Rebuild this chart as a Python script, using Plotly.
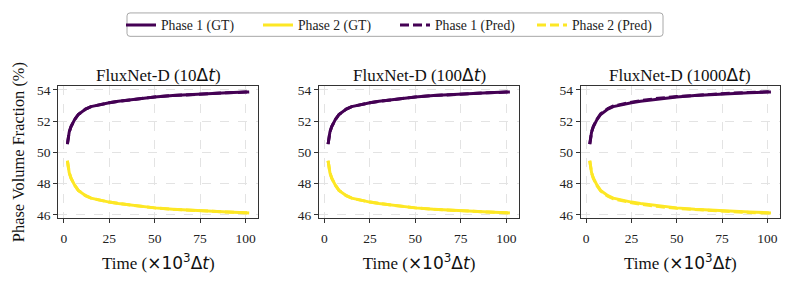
import plotly.graph_objects as go

# ---------------- data ----------------
time_k = [2, 3, 4, 5, 6, 8, 10, 12, 15, 20, 25, 30, 40, 50, 60, 70, 80, 90, 100, 102]

phase1_gt = [50.53, 51.30, 51.65, 51.90, 52.10, 52.43, 52.62, 52.77, 52.93, 53.07,
             53.18, 53.27, 53.43, 53.55, 53.64, 53.71, 53.77, 53.82, 53.86, 53.87]
phase2_gt = [49.47, 48.70, 48.35, 48.10, 47.90, 47.57, 47.38, 47.23, 47.07, 46.93,
             46.82, 46.73, 46.57, 46.45, 46.36, 46.29, 46.23, 46.18, 46.14, 46.13]

pred_10_p1 = [50.53, 51.30, 51.65, 51.90, 52.10, 52.43, 52.62, 52.77, 52.93, 53.07,
              53.18, 53.27, 53.43, 53.55, 53.64, 53.71, 53.77, 53.82, 53.86, 53.87]
pred_10_p2 = [49.47, 48.70, 48.35, 48.10, 47.90, 47.57, 47.38, 47.23, 47.07, 46.93,
              46.82, 46.73, 46.57, 46.45, 46.36, 46.29, 46.23, 46.18, 46.14, 46.13]
pred_100_p1 = [50.53, 51.30, 51.65, 51.90, 52.10, 52.43, 52.62, 52.77, 52.93, 53.07,
               53.18, 53.27, 53.43, 53.55, 53.64, 53.71, 53.77, 53.82, 53.86, 53.87]
pred_100_p2 = [49.47, 48.70, 48.35, 48.10, 47.90, 47.57, 47.38, 47.23, 47.07, 46.93,
               46.82, 46.73, 46.57, 46.45, 46.36, 46.29, 46.23, 46.18, 46.14, 46.13]
pred_1000_p1 = [50.53, 51.31, 51.67, 51.93, 52.13, 52.47, 52.66, 52.81, 52.97, 53.11,
                53.22, 53.31, 53.47, 53.58, 53.66, 53.73, 53.79, 53.84, 53.88, 53.89]
pred_1000_p2 = [49.47, 48.69, 48.33, 48.07, 47.87, 47.53, 47.34, 47.19, 47.03, 46.89,
                46.78, 46.69, 46.53, 46.42, 46.34, 46.27, 46.21, 46.16, 46.12, 46.11]

panel_steps = ["10", "100", "1000"]
preds = [(pred_10_p1, pred_10_p2), (pred_100_p1, pred_100_p2), (pred_1000_p1, pred_1000_p2)]

series_names = ["Phase 1 (GT)", "Phase 2 (GT)", "Phase 1 (Pred)", "Phase 2 (Pred)"]
x_ticks = [0, 25, 50, 75, 100]
y_ticks = [46, 48, 50, 52, 54]

# ---------------- style ----------------
PURPLE = "#440154"
YELLOW = "#fde725"
SERIF = "Liberation Serif"
MATH = "'DejaVu Sans'"
OFF = 8                     # default page body margin
W, H = 792 - 2 * OFF, 287 - 2 * OFF


def px_x(px):
    return (px - OFF) / W


def px_y(py):
    return 1 - (py - OFF) / H


x_domains = [(58.3, 258.3), (319.0, 519.0), (580.7, 780.0)]
y_top, y_bot = 84.7, 221.0
y_dom = [px_y(y_bot), px_y(y_top)]

fig = go.Figure()

for i, (p1p, p2p) in enumerate(preds):
    sfx = "" if i == 0 else str(i + 1)
    xa, ya = "x" + sfx, "y" + sfx
    show = i == 0
    fig.add_trace(go.Scatter(x=time_k, y=phase1_gt, mode="lines", name=series_names[0],
                             line=dict(color=PURPLE, width=3), xaxis=xa, yaxis=ya,
                             showlegend=show, legendrank=1))
    fig.add_trace(go.Scatter(x=time_k, y=phase2_gt, mode="lines", name=series_names[1],
                             line=dict(color=YELLOW, width=3), xaxis=xa, yaxis=ya,
                             showlegend=show, legendrank=2))
    fig.add_trace(go.Scatter(x=time_k, y=p1p, mode="lines", name=series_names[2],
                             line=dict(color=PURPLE, width=3, dash="9px,4px"), xaxis=xa, yaxis=ya,
                             showlegend=show, legendrank=3))
    fig.add_trace(go.Scatter(x=time_k, y=p2p, mode="lines", name=series_names[3],
                             line=dict(color=YELLOW, width=3, dash="9px,4px"), xaxis=xa, yaxis=ya,
                             showlegend=show, legendrank=4))

xtitle = ("Time (<span style=\"font-family:" + MATH + "\">×10<sup>3</sup>Δ<i>t</i></span>)")

# rounded legend frame (in page pixels -> paper coords)
lx0, lx1, ly0, ly1, r = 127, 663, 10, 34, 3
frame = (f"M {px_x(lx0 + r)} {px_y(ly0)} L {px_x(lx1 - r)} {px_y(ly0)} "
         f"Q {px_x(lx1)} {px_y(ly0)} {px_x(lx1)} {px_y(ly0 + r)} "
         f"L {px_x(lx1)} {px_y(ly1 - r)} Q {px_x(lx1)} {px_y(ly1)} {px_x(lx1 - r)} {px_y(ly1)} "
         f"L {px_x(lx0 + r)} {px_y(ly1)} Q {px_x(lx0)} {px_y(ly1)} {px_x(lx0)} {px_y(ly1 - r)} "
         f"L {px_x(lx0)} {px_y(ly0 + r)} Q {px_x(lx0)} {px_y(ly0)} {px_x(lx0 + r)} {px_y(ly0)} Z")

layout = dict(
    width=W, height=H,
    margin=dict(l=0, r=0, t=0, b=0),
    paper_bgcolor="white", plot_bgcolor="white",
    font=dict(family=SERIF, size=13, color="#222"),
    showlegend=True,
    legend=dict(orientation="h", x=px_x(395), xanchor="center", y=px_y(22.5), yanchor="middle",
                bgcolor="rgba(0,0,0,0)", borderwidth=0,
                font=dict(family=SERIF, size=13.7, color="#222"),
                entrywidth=92, entrywidthmode="pixels",
                traceorder="normal"),
    shapes=[dict(type="path", path=frame, xref="paper", yref="paper",
                 line=dict(color="#a8a8a8", width=1), fillcolor="white", layer="below")],
)

annotations = []
for i, (x0, x1) in enumerate(x_domains):
    sfx = "" if i == 0 else str(i + 1)
    ax = dict(domain=[px_x(x0), px_x(x1)], range=[-3, 107], tickvals=x_ticks,
              showline=True, linecolor="#333", linewidth=1, mirror=True,
              ticks="outside", ticklen=4, tickcolor="#333", ticklabelstandoff=3,
              showgrid=True, gridcolor="#e3e3e3", griddash="dash", gridwidth=1,
              zeroline=False, tickfont=dict(family=SERIF, size=13.5, color="#222"),
              title=dict(text=xtitle, font=dict(family=SERIF, size=17, color="#111"), standoff=12),
              anchor="y" + sfx)
    ay = dict(domain=y_dom, range=[45.77, 54.27], tickvals=y_ticks,
              showline=True, linecolor="#333", linewidth=1, mirror=True,
              ticks="outside", ticklen=4, tickcolor="#333",
              showgrid=True, gridcolor="#e3e3e3", griddash="dash", gridwidth=1,
              zeroline=False, tickfont=dict(family=SERIF, size=13.5, color="#222"),
              anchor="x" + sfx)
    if i == 0:
        ay["title"] = dict(text="Phase Volume Fraction (%)",
                           font=dict(family=SERIF, size=16.4, color="#111"), standoff=8)
    layout["xaxis" + sfx] = ax
    layout["yaxis" + sfx] = ay
    annotations.append(dict(
        text="FluxNet-D (" + panel_steps[i] + "<span style=\"font-family:" + MATH + "\">Δ<i>t</i></span>)",
        x=px_x((x0 + x1) / 2), y=px_y(74), xref="paper", yref="paper",
        xanchor="center", yanchor="middle", showarrow=False,
        font=dict(family=SERIF, size=17, color="#111")))

layout["annotations"] = annotations
fig.update_layout(**layout)
fig.write_html("out.html")
